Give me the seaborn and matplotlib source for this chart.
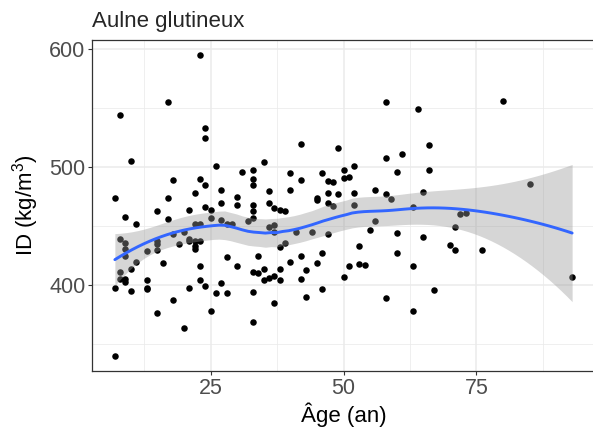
import numpy as np
import pandas as pd
import seaborn as sns
import matplotlib.pyplot as plt

# Age (an) and ID (kg/m3)
age = [23, 17, 8, 24, 24, 10, 26, 31, 18, 23, 24, 27, 22, 7, 17, 30, 27, 30,
       15, 21, 24, 25, 9, 17, 11, 22, 23, 25, 27, 28, 29, 32, 18, 20, 8, 9,
       9, 9, 15, 15, 19, 21, 21, 22, 23, 22, 22, 13, 15, 11, 16, 10, 8, 8,
       9, 9, 13, 13, 13, 7, 10, 23, 23, 28, 30, 21, 24, 27, 26, 28, 18, 15,
       25, 20, 7,
       58, 42, 49, 58, 61, 35, 33, 33, 33, 40, 42, 46, 50, 52, 50, 51, 60,
       47, 48, 36, 40, 47, 49, 52, 56, 58, 59, 45, 45, 47, 48, 52, 33, 36,
       33, 37, 38, 39, 63, 36, 37, 37, 41, 44, 47, 56, 55, 60, 39, 38, 53,
       34, 42, 46, 60, 40, 45, 53, 54, 51, 63, 33, 34, 35, 38, 36, 37, 35,
       38, 43, 42, 50, 33, 46, 43, 37, 58, 63, 33,
       64, 80, 66, 66, 65, 85, 72, 73, 71, 65, 70, 71, 76, 67, 93, 33]
density = [595, 555, 544, 533, 525, 505, 501, 496, 489, 490, 485, 481, 478,
           474, 474, 475, 470, 468, 463, 464, 466, 464, 458, 456, 452, 452,
           452, 457, 455, 452, 452, 454, 443, 445, 439, 436, 431, 425, 437,
           435, 435, 439, 437, 437, 437, 433, 431, 429, 430, 420, 419, 414,
           411, 405, 405, 403, 404, 398, 397, 398, 395, 416, 404, 424, 416,
           398, 399, 402, 393, 393, 387, 376, 378, 364, 340,
           555, 520, 516, 508, 511, 504, 498, 490, 485, 495, 489, 495, 498,
           501, 491, 492, 496, 488, 487, 480, 481, 478, 477, 478, 481, 477,
           473, 474, 472, 470, 467, 468, 468, 470, 463, 465, 464, 463, 466,
           449, 451, 445, 445, 445, 443, 454, 447, 444, 436, 432, 433, 425,
           425, 427, 427, 420, 419, 418, 417, 416, 416, 411, 410, 414, 414,
           406, 408, 404, 404, 413, 405, 407, 394, 397, 390, 385, 389, 378,
           369,
           549, 556, 519, 498, 479, 486, 460, 461, 449, 441, 434, 430, 430,
           396, 407, 457]

df = pd.DataFrame({"age": age, "id": density})


def loess_fit(x, y, grid, span=0.75):
    # local quadratic fit with tricube weights, like R's loess default
    n = len(x)
    q = int(np.floor(n * span))

    def rows(points):
        out = np.zeros((len(points), n))
        for i, x0 in enumerate(points):
            d = np.abs(x - x0)
            h = np.sort(d)[q - 1]
            w = np.clip(1 - (d / h) ** 3, 0, None) ** 3
            X = np.column_stack([np.ones(n), x - x0, (x - x0) ** 2])
            XtW = X.T * w
            out[i] = np.linalg.solve(XtW @ X, XtW)[0]
        return out

    L = rows(x)
    resid = y - L @ y
    M = np.eye(n) - L
    d1 = np.trace(M.T @ M)
    sigma = np.sqrt(np.sum(resid ** 2) / d1)
    Lg = rows(grid)
    fit = Lg @ y
    se = sigma * np.sqrt(np.sum(Lg ** 2, axis=1))
    return fit, se


x = df["age"].to_numpy(float)
y = df["id"].to_numpy(float)
grid = np.linspace(x.min(), x.max(), 80)
fit, se = loess_fit(x, y, grid)
smooth = pd.DataFrame({"age": grid, "id": fit})

sns.set_style("white")
plt.rcParams["font.family"] = ["Liberation Sans", "DejaVu Sans"]
plt.rcParams["mathtext.fontset"] = "custom"
plt.rcParams["mathtext.rm"] = "Liberation Sans"
plt.rcParams["mathtext.it"] = "Liberation Sans:italic"

fig = plt.figure(figsize=(5.93, 4.30), dpi=100)
ax = fig.add_axes([92 / 593, 59 / 430, 503 / 593, 331 / 430])

sns.scatterplot(data=df, x="age", y="id", color="black", s=22,
                linewidth=0, ax=ax, zorder=3)
ax.fill_between(grid, fit - 1.972 * se, fit + 1.972 * se,
                color="#999999", alpha=0.4, linewidth=0, zorder=4)
sns.lineplot(data=smooth, x="age", y="id", color="#3366FF", linewidth=2.1,
             ax=ax, zorder=5)

xr = x.max() - x.min()
yr = y.max() - y.min()
ax.set_xlim(x.min() - 0.05 * xr, x.max() + 0.05 * xr)
ax.set_ylim(y.min() - 0.05 * yr, y.max() + 0.05 * yr)
ax.set_xticks([25, 50, 75])
ax.set_yticks([400, 500, 600])
ax.set_xticks([12.5, 37.5, 62.5, 87.5], minor=True)
ax.set_yticks([350, 450, 550], minor=True)
ax.grid(True, which="major", color="#EBEBEB", linewidth=1.1, zorder=0)
ax.grid(True, which="minor", color="#EBEBEB", linewidth=0.55, zorder=0)
ax.set_axisbelow(True)

ax.tick_params(which="major", length=2.75, width=0.8, color="#333333",
               labelsize=15.5, labelcolor="#4D4D4D", pad=2, bottom=True,
               left=True)
ax.tick_params(which="minor", length=0)
for sp in ax.spines.values():
    sp.set_color("#333333")
    sp.set_linewidth(0.9)

ax.set_xlabel("Âge (an)", fontsize=16, color="black", labelpad=3)
ax.set_ylabel("ID (kg/m$^{3}$)", fontsize=16, color="black", labelpad=6)
ax.set_title("Aulne glutineux", fontsize=16, loc="left", pad=9)

fig.savefig("out.png", dpi=100)
